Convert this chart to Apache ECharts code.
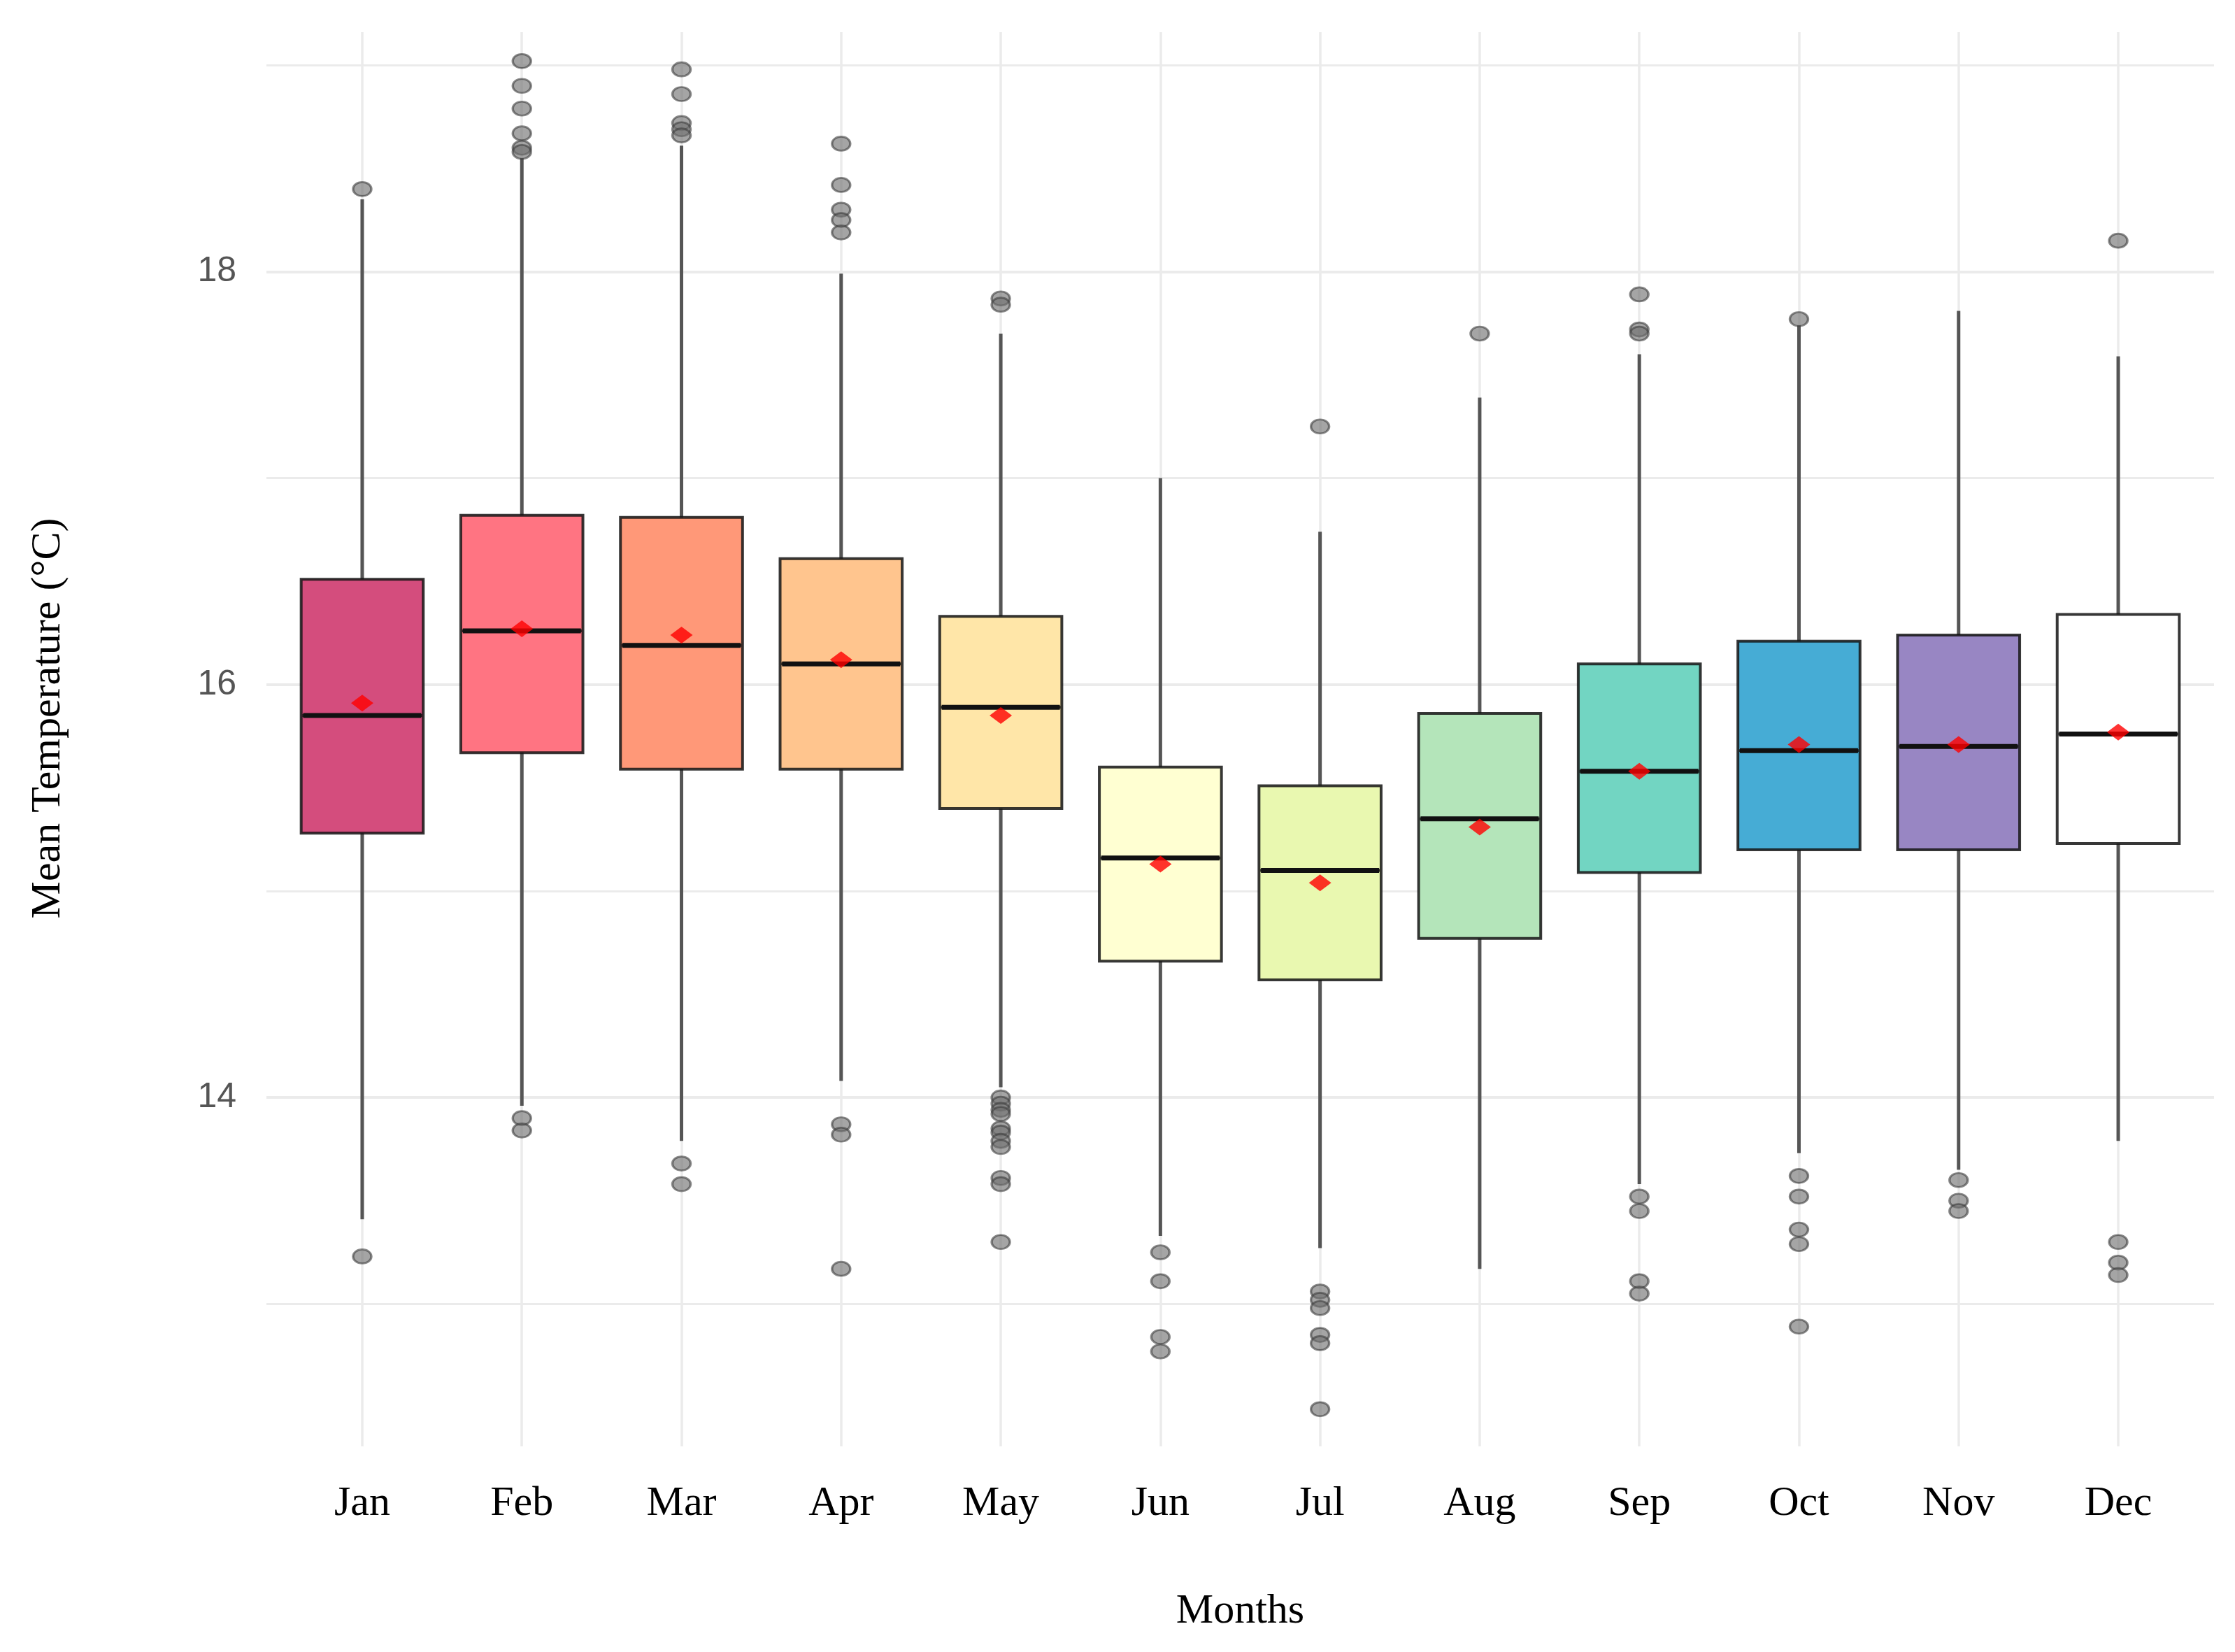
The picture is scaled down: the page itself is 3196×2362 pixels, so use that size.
<!DOCTYPE html>
<html>
<head>
<meta charset="utf-8">
<script src="https://cdn.jsdelivr.net/npm/echarts@6/dist/echarts.min.js"></script>
<style>
html,body{margin:0;padding:0;background:#fff;}
#chart{width:3196px;height:2362px;}
</style>
</head>
<body>
<div id="chart"></div>
<script>
const months = ['Jan','Feb','Mar','Apr','May','Jun','Jul','Aug','Sep','Oct','Nov','Dec'];
const whiskerLow  = [13.41, 13.96, 13.79, 14.08, 14.05, 13.33, 13.27, 13.17, 13.58, 13.73, 13.65, 13.79];
const q1          = [15.28, 15.67, 15.59, 15.59, 15.40, 14.66, 14.57, 14.77, 15.09, 15.20, 15.20, 15.23];
const medians     = [15.85, 16.26, 16.19, 16.10, 15.89, 15.16, 15.10, 15.35, 15.58, 15.68, 15.70, 15.76];
const q3          = [16.51, 16.82, 16.81, 16.61, 16.33, 15.60, 15.51, 15.86, 16.10, 16.21, 16.24, 16.34];
const whiskerHigh = [18.35, 18.55, 18.61, 17.99, 17.70, 17.00, 16.74, 17.39, 17.60, 17.74, 17.81, 17.59];
const means       = [15.91, 16.27, 16.24, 16.12, 15.85, 15.13, 15.04, 15.31, 15.58, 15.71, 15.71, 15.77];
const outliers = [
  [18.40, 13.23],
  [19.02, 18.90, 18.79, 18.67, 18.60, 18.58, 13.90, 13.84],
  [18.98, 18.86, 18.72, 18.69, 18.66, 13.68, 13.58],
  [18.62, 18.42, 18.30, 18.25, 18.19, 13.87, 13.82, 13.17],
  [17.87, 17.84, 14.00, 13.97, 13.94, 13.92, 13.85, 13.83, 13.79, 13.76, 13.61, 13.58, 13.30],
  [13.25, 13.11, 12.84, 12.77],
  [17.25, 13.06, 13.02, 12.98, 12.85, 12.81, 12.49],
  [17.70],
  [17.89, 17.72, 17.70, 13.52, 13.45, 13.11, 13.05],
  [17.77, 13.62, 13.52, 13.36, 13.29, 12.89],
  [13.60, 13.50, 13.45],
  [18.15, 13.30, 13.20, 13.14]
];
const boxColors = ['#D44D7D','#FF7482','#FF9878','#FFC58E','#FFE6A8','#FFFFD2','#E9F8B0','#B4E5BA','#72D5C2','#46ACD5','#9886C3','#FFFFFF'];
const yTickLabels = [14, 16, 18];
const yGridValues = [13, 14, 15, 16, 17, 18, 19];

const xPos = months.map((m, i) => i + 1);
const BOX_FRACTION = 0.74; // box width in category units

const gridLines = [];
yGridValues.forEach(v => gridLines.push({yAxis: v, lineStyle: {width: (v % 2 === 0) ? 4 : 3}}));
xPos.forEach(x => gridLines.push({xAxis: x, lineStyle: {width: 3.5}}));

const whiskerData = xPos.map((x, i) => [x, whiskerLow[i], whiskerHigh[i]]);
const boxData = xPos.map((x, i) => ({
  value: [x, q1[i], q1[i], medians[i], q3[i], q3[i]],
  itemStyle: {color: boxColors[i]}
}));
const medianData = xPos.map((x, i) => [x, medians[i]]);
const outlierData = [];
outliers.forEach((arr, i) => arr.forEach(v => outlierData.push([i + 1, v])));
const meanData = xPos.map((x, i) => [x, means[i]]);

const boxPct = (BOX_FRACTION * 12.2 / 12 * 100).toFixed(2) + '%';
const serif = 'Liberation Serif';
const chart = echarts.init(document.getElementById('chart'));
chart.setOption({
  animation: false,
  backgroundColor: '#ffffff',
  grid: {left: 381, right: 30, top: 46, bottom: 294, containLabel: false},
  xAxis: {
    type: 'value', min: 0.4, max: 12.6,
    name: 'Months', nameLocation: 'middle', nameGap: 206,
    nameTextStyle: {fontFamily: serif, fontSize: 60, color: '#000'},
    axisLine: {show: false}, axisTick: {show: false}, splitLine: {show: false},
    axisLabel: {
      customValues: xPos,
      formatter: v => months[Math.round(v) - 1] || '',
      fontFamily: serif, fontSize: 60, color: '#000', margin: 52
    }
  },
  yAxis: {
    type: 'value', min: 12.31, max: 19.16,
    name: 'Mean Temperature (°C)', nameLocation: 'middle', nameGap: 282,
    nameTextStyle: {fontFamily: serif, fontSize: 60, color: '#000', padding: [0, 0, 0, 60]},
    axisLine: {show: false}, axisTick: {show: false}, splitLine: {show: false},
    axisLabel: {
      customValues: yTickLabels,
      fontFamily: 'Liberation Sans', fontSize: 50, color: '#555555', margin: 43
    }
  },
  series: [
    {
      type: 'scatter', data: [], z: 0, silent: true,
      markLine: {
        z: 0, silent: true, symbol: ['none', 'none'], label: {show: false},
        lineStyle: {color: '#ebebeb', type: 'solid', width: 3},
        data: gridLines, animation: false
      }
    },
    {
      type: 'custom', z: 2, silent: true,
      data: whiskerData,
      encode: {x: 0, y: [1, 2]},
      renderItem: function (params, api) {
        const p1 = api.coord([api.value(0), api.value(1)]);
        const p2 = api.coord([api.value(0), api.value(2)]);
        return {
          type: 'line',
          shape: {x1: p1[0], y1: p1[1], x2: p2[0], y2: p2[1]},
          style: {stroke: '#555555', lineWidth: 5}
        };
      }
    },
    {
      type: 'boxplot', z: 3, silent: true,
      boxWidth: [boxPct, boxPct],
      itemStyle: {borderColor: 'rgba(20,20,20,0.85)', borderWidth: 4},
      data: boxData
    },
    {
      type: 'custom', z: 4, silent: true,
      data: medianData,
      encode: {x: 0, y: 1},
      renderItem: function (params, api) {
        const c = api.coord([api.value(0), api.value(1)]);
        const half = api.size([BOX_FRACTION, 0])[0] / 2;
        return {
          type: 'line',
          shape: {x1: c[0] - half, y1: c[1], x2: c[0] + half, y2: c[1]},
          style: {stroke: '#111111', lineWidth: 7}
        };
      }
    },
    {
      type: 'scatter', z: 5, silent: true,
      symbol: 'circle', symbolSize: [26, 20],
      itemStyle: {color: 'rgba(110,110,110,0.78)', borderColor: 'rgba(60,60,60,0.75)', borderWidth: 3},
      data: outlierData
    },
    {
      type: 'scatter', z: 6, silent: true,
      symbol: 'diamond', symbolSize: [32, 24],
      itemStyle: {color: '#ff0000'},
      data: meanData
    }
  ]
});
</script>
</body>
</html>
